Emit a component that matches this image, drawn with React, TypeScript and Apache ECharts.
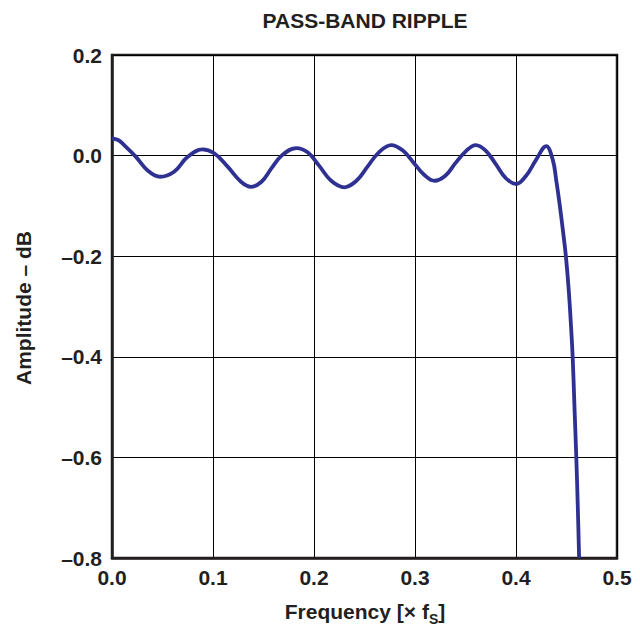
import React, { useEffect, useRef } from "react";
import * as echarts from "echarts";

const titleText = "PASS-BAND RIPPLE";
const yAxisName = "Amplitude – dB";
const xTicks = [0, 0.1, 0.2, 0.3, 0.4, 0.5];
const yTicks = [-0.8, -0.6, -0.4, -0.2, 0, 0.2];

const frequency = [
  0, 0.006, 0.012, 0.0235, 0.035, 0.0476, 0.0615, 0.0747, 0.0896, 0.1012, 0.1145,
  0.1277, 0.1376, 0.148, 0.158, 0.168, 0.1825, 0.194, 0.205, 0.217, 0.23,
  0.242, 0.253, 0.264, 0.2764, 0.288, 0.299, 0.309, 0.3194, 0.33, 0.34,
  0.35, 0.3602, 0.37, 0.38, 0.39, 0.4, 0.41, 0.42, 0.4299, 0.4365,
  0.4398, 0.4431, 0.4464, 0.4494, 0.4522, 0.4547, 0.4561, 0.4579, 0.4597, 0.4612, 0.4625,
];
const amplitude = [
  0.034, 0.031, 0.021, -0.002, -0.029, -0.042, -0.032, -0.003, 0.0125, 0.0046, -0.022,
  -0.052, -0.062, -0.052, -0.025, 0.0, 0.015, 0.006, -0.02, -0.05, -0.063,
  -0.05, -0.022, 0.006, 0.021, 0.01, -0.015, -0.038, -0.05, -0.04, -0.015,
  0.008, 0.021, 0.01, -0.017, -0.045, -0.0565, -0.04, -0.008, 0.019, -0.009,
  -0.0485, -0.095, -0.148, -0.2, -0.267, -0.347, -0.4, -0.5, -0.6, -0.7, -0.8,
];

const FONT = "'Liberation Sans', Arial, Helvetica, sans-serif";
const INK = "#231f20";
const fmt = (v: number) => {
  const s = Math.abs(v).toFixed(1);
  return v < -1e-9 ? "–" + s : s;
};

export default function App() {
  const ref = useRef<HTMLDivElement>(null);
  useEffect(() => {
    if (!ref.current) return;
    const chart = echarts.init(ref.current, null, { renderer: "svg" });
    const data = frequency.map((f, i) => [f, amplitude[i]]);
    chart.setOption({
      animation: false,
      backgroundColor: "#ffffff",
      grid: {
        left: 112,
        right: 23,
        top: 55,
        bottom: 69,
        show: true,
        borderColor: INK,
        borderWidth: 2.5,
        backgroundColor: "transparent",
      },
      xAxis: {
        type: "value",
        min: xTicks[0],
        max: xTicks[xTicks.length - 1],
        interval: 0.1,
        axisLine: { show: true, onZero: false, lineStyle: { color: INK, width: 2.5 } },
        axisTick: { show: false },
        splitLine: { show: true, lineStyle: { color: "#000", width: 1 } },
        axisLabel: {
          margin: 9,
          formatter: fmt,
          color: INK,
          fontFamily: FONT,
          fontWeight: "bold",
          fontSize: 21,
        },
      },
      yAxis: {
        type: "value",
        min: yTicks[0],
        max: yTicks[yTicks.length - 1],
        interval: 0.2,
        axisLine: { show: true, onZero: false, lineStyle: { color: INK, width: 2.5 } },
        axisTick: { show: false },
        splitLine: { show: true, lineStyle: { color: "#000", width: 1 } },
        axisLabel: {
          margin: 10,
          formatter: fmt,
          color: INK,
          fontFamily: FONT,
          fontWeight: "bold",
          fontSize: 21,
        },
      },
      graphic: [
        {
          type: "text",
          x: 365,
          y: 20,
          style: {
            text: titleText,
            fontFamily: FONT,
            fontWeight: "bold",
            fontSize: 21,
            fill: INK,
            align: "center",
            verticalAlign: "middle",
          },
        },
        {
          type: "text",
          x: 23,
          y: 308,
          rotation: Math.PI / 2,
          style: {
            text: yAxisName,
            fontFamily: FONT,
            fontWeight: "bold",
            fontSize: 21,
            fill: INK,
            align: "center",
            verticalAlign: "middle",
          },
        },
        {
          type: "text",
          x: 365,
          y: 611,
          style: {
            text: "{m|Frequency [× f}{s|S}{m|]}",
            fontFamily: FONT,
            fontWeight: "bold",
            fontSize: 21,
            fill: INK,
            align: "center",
            verticalAlign: "middle",
            rich: {
              m: {
                fontFamily: FONT,
                fontWeight: "bold",
                fontSize: 21,
                lineHeight: 30,
                fill: INK,
              },
              s: {
                fontFamily: FONT,
                fontWeight: "bold",
                fontSize: 14,
                lineHeight: 14,
                verticalAlign: "bottom",
                fill: INK,
              },
            },
          },
        },
      ],
      series: [
        {
          type: "line",
          data,
          smooth: 0.4,
          showSymbol: false,
          clip: true,
          lineStyle: { color: "#2e3192", width: 3.8 },
          itemStyle: { color: "#2e3192" },
        },
      ],
    });
    return () => chart.dispose();
  }, []);
  return (
    <div
      ref={ref}
      style={{ position: "fixed", left: 0, top: 0, width: 640, height: 627 }}
    />
  );
}
